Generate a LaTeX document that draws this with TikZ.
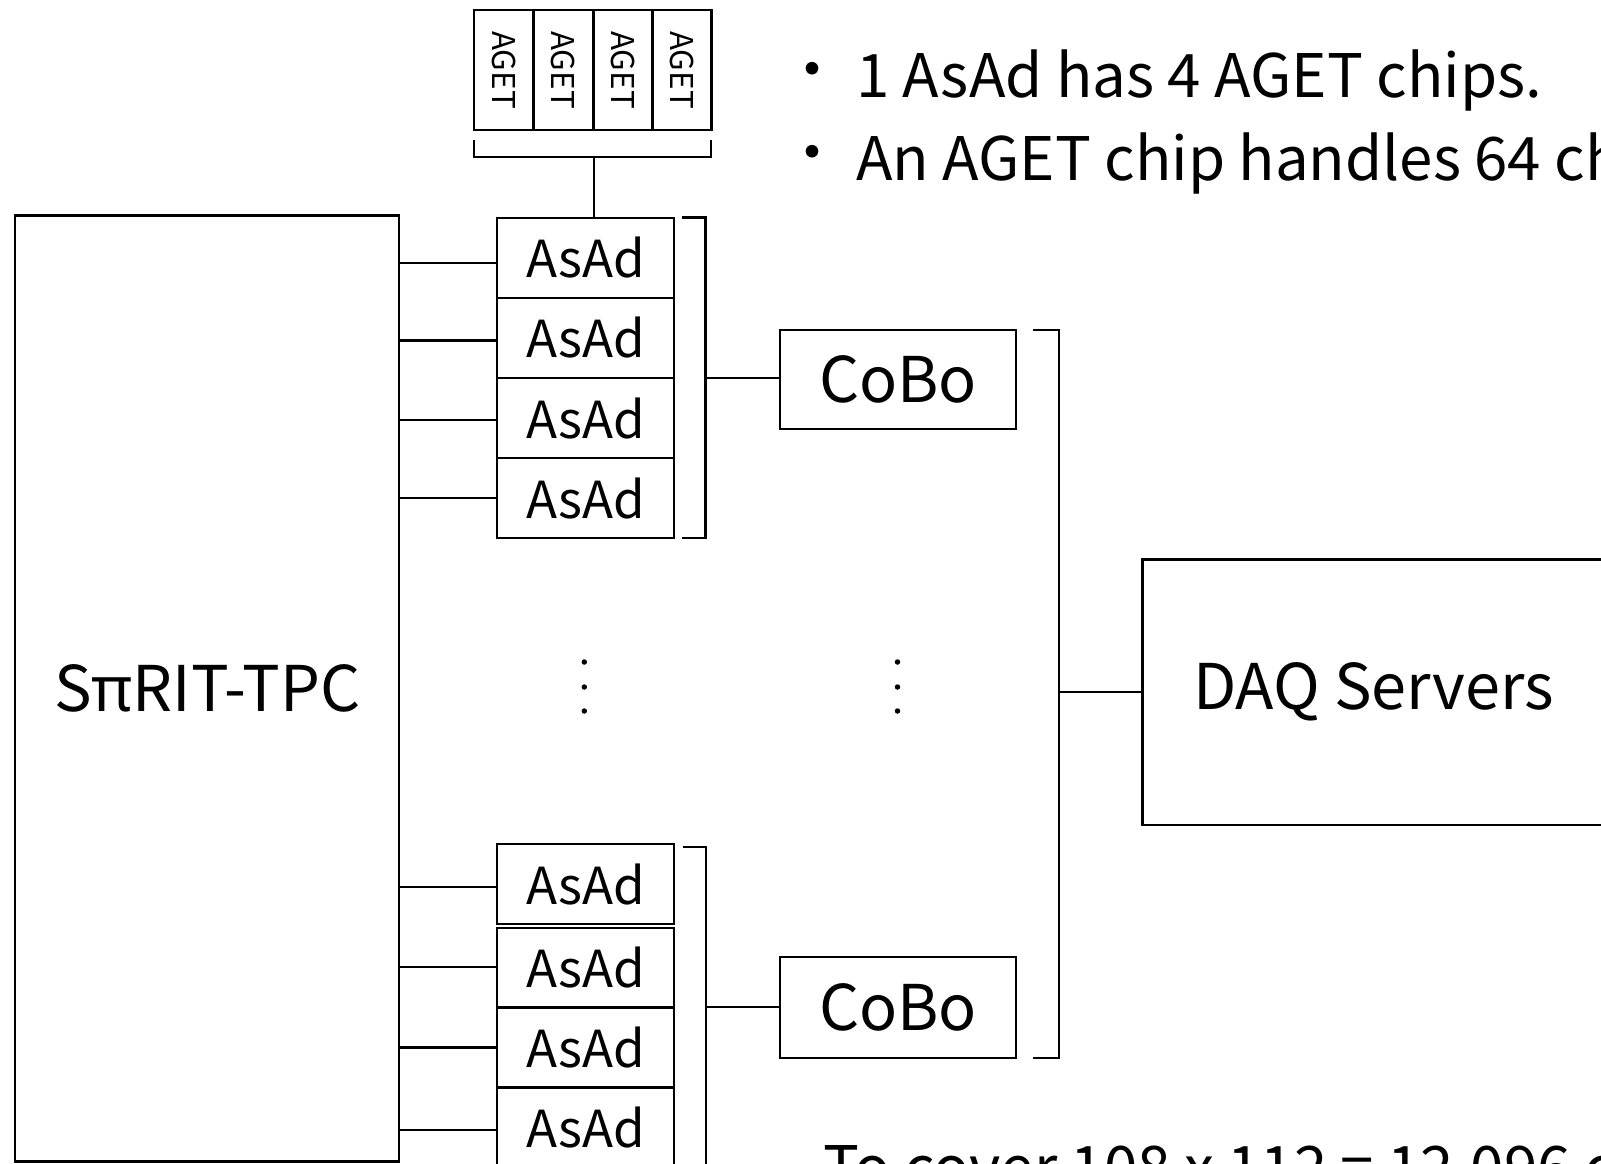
\documentclass[tikz,border=0pt]{standalone}
\usepackage{fontspec}
\setmainfont{Noto Sans CJK KR}
\newfontfamily\grk{Noto Sans}
\newcommand\fBig{\fontsize{63}{64}\selectfont}
\newcommand\fAsAd{\fontsize{51}{52}\selectfont}
\newcommand\fAget{\fontsize{31.4}{32}\selectfont}
\newcommand\fNote{\fontsize{60}{61}\selectfont}
\tikzset{
  box/.style={draw, line width=2.3pt, inner sep=0pt, anchor=center},
  asad/.style={box, minimum width=177pt, minimum height=80pt, font=\fAsAd},
  agetcell/.style={box, minimum width=59.3pt, minimum height=120pt},
  cobo/.style={box, minimum width=236pt, font=\fBig},
  conn/.style={line width=2.3pt},
  dotn/.style={circle, fill, inner sep=0pt, minimum size=5.5pt},
  note/.style={anchor=base west, inner sep=0pt, font=\fNote},
}
\begin{document}
\begin{tikzpicture}[x=1pt,y=-1pt]
\clip (0,0) rectangle (1601,1164);
\fill[white] (0,0) rectangle (1601,1164);

% TPC
\node[box, minimum width=384pt, minimum height=946pt, font=\fBig] (tpc) at (207.3,688.45) {S{\grk π}RIT-TPC};

% AGET chips
\foreach \i/\x in {1/503.7,2/563.3,3/623,4/681.7}{
  \node[agetcell] (g\i) at (\x,70) {};
  \node[rotate=-90, font=\fAget, inner sep=0pt] (gt\i) at (g\i.center) {AGET};
}
\coordinate (gbl) at (474,140);
\coordinate (gbr) at (710.7,140);
\coordinate (gstem) at (594,157);
\draw[conn] (gbl) -- (474,157) -- (710.7,157) -- (gbr);

% top AsAd group
\node[asad] (a1) at (585.5,257.75) {AsAd};
\node[asad] (a2) at (585.5,338) {AsAd};
\node[asad] (a3) at (585.5,418.25) {AsAd};
\node[asad] (a4) at (585.5,498.25) {AsAd};
\draw[conn] (gstem) -- (gstem |- a1.north);

\draw[conn] ([yshift=-5pt]a1.west) -- ([yshift=-5pt]a1.west -| tpc.east);
\draw[conn] ([yshift=-2.5pt]a2.west) -- ([yshift=-2.5pt]a2.west -| tpc.east);
\draw[conn] ([yshift=-1.7pt]a3.west) -- ([yshift=-1.7pt]a3.west -| tpc.east);
\draw[conn] (a4.west) -- (a4.west -| tpc.east);

% bottom AsAd group
\node[asad] (b1) at (585.5,884.3) {AsAd};
\node[asad] (b2) at (585.5,967.7) {AsAd};
\node[asad] (b3) at (585.5,1047.5) {AsAd};
\node[asad] (b4) at (585.5,1127.3) {AsAd};
\draw[conn] ([yshift=-3pt]b1.west) -- ([yshift=-3pt]b1.west -| tpc.east);
\draw[conn] ([yshift=1pt]b2.west) -- ([yshift=1pt]b2.west -| tpc.east);
\draw[conn] (b3.west) -- (b3.west -| tpc.east);
\draw[conn] ([yshift=-3pt]b4.west) -- ([yshift=-3pt]b4.west -| tpc.east);

% CoBo boxes
\node[cobo, minimum height=99pt] (c1) at (898,379.5) {CoBo};
\node[cobo, minimum height=101pt] (c2) at (898,1007.5) {CoBo};

% AsAd -> CoBo brackets
\coordinate (k1t) at (682,217.5);
\coordinate (k1b) at (682,538);
\coordinate (k1s) at (705.6,378);
\draw[conn] (k1t) -- (705.6,217.5) -- (705.6,538) -- (k1b);
\draw[conn] (k1s) -- (k1s -| c1.west);

\coordinate (k2t) at (683,846.7);
\coordinate (k2s) at (705.7,1006.7);
\draw[conn] (k2t) -- (705.7,846.7) -- (705.7,1200);
\draw[conn] (k2s) -- (k2s -| c2.west);

% DAQ
\node[box, minimum width=461.8pt, minimum height=265.5pt, font=\fBig] (daq) at (1373.5,692.25) {DAQ Servers};
\coordinate (k3t) at (1033,330);
\coordinate (k3b) at (1033,1058);
\coordinate (k3s) at (1059,692);
\draw[conn] (k3t) -- (1059,330) -- (1059,1058) -- (k3b);
\draw[conn] (k3s) -- (k3s -| daq.west);

% ellipsis dots
\foreach \y [count=\j] in {662,687,711}{
  \node[dotn] (da\j) at (584.3,\y) {};
  \node[dotn] (dc\j) at (897.5,\y) {};
}

% notes
\node[font=\fNote, inner sep=0pt] (bul1) at (812,76.6) {・};
\node[font=\fNote, inner sep=0pt] (bul2) at (812,160) {・};
\node[note] (n1) at (856,97) {1 AsAd has 4 AGET chips.};
\node[note] (n2) at (856,180) {An AGET chip handles 64 channels.};
\node[note] (n3) at (823,1189.5) {To cover 108 x 112 = 12,096 channels};
\end{tikzpicture}
\end{document}
